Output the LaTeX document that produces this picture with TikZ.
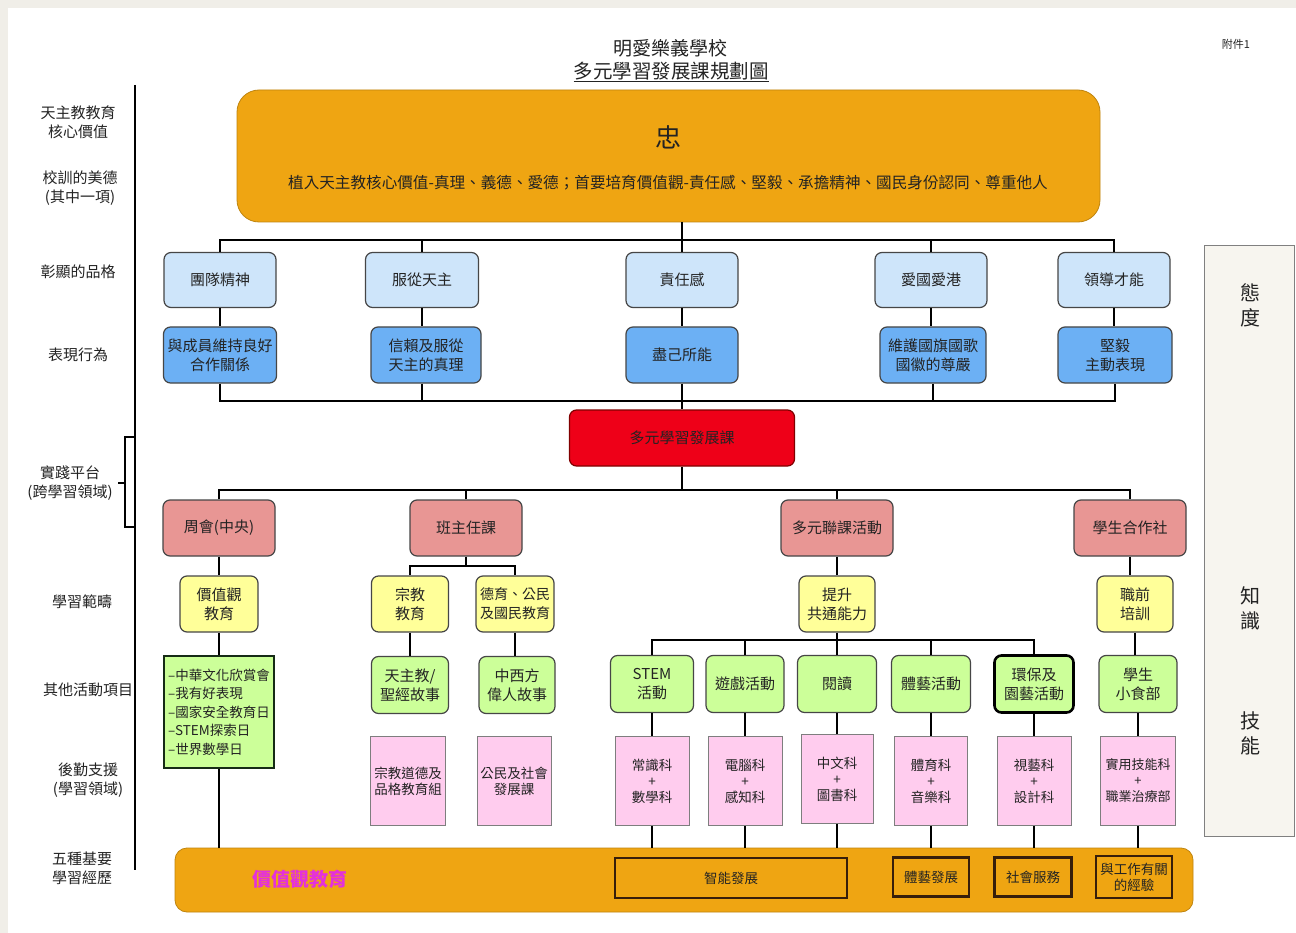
\documentclass[tikz,border=0pt]{standalone}
\usepackage{fontspec}
\setmainfont{Noto Sans CJK TC}
\definecolor{cBG}{RGB}{240,238,232}
\definecolor{cOr}{RGB}{239,165,18}
\definecolor{cLB}{RGB}{206,229,250}
\definecolor{cMB}{RGB}{108,176,244}
\definecolor{cRed}{RGB}{238,0,24}
\definecolor{cPR}{RGB}{232,150,148}
\definecolor{cYe}{RGB}{255,255,153}
\definecolor{cGr}{RGB}{204,255,153}
\definecolor{cPk}{RGB}{255,204,238}
\definecolor{cPan}{RGB}{247,245,239}
\definecolor{cTxt}{RGB}{35,35,35}
\definecolor{cLine}{RGB}{70,70,70}
\definecolor{cMag}{RGB}{228,48,220}
\definecolor{cBrown}{RGB}{55,30,10}
\tikzset{
  box/.style={draw=cLine, line width=1.2pt, rounded corners=7pt, align=center, inner sep=1pt, text=cTxt, font=\fontsize{15}{19}\selectfont},
  lbbox/.style={box, fill=cLB, minimum height=55},
  mbbox/.style={box, fill=cMB, minimum height=56},
  prbox/.style={box, fill=cPR, minimum height=56},
  yebox/.style={box, fill=cYe, minimum height=56},
  grbox/.style={box, fill=cGr, minimum height=57},
  pkbox/.style={draw=cLine!70, line width=0.8pt, fill=cPk, align=center, inner sep=1pt, text=cTxt, minimum height=89, font=\fontsize{13.5}{16}\selectfont},
  inbox/.style={draw=cBrown, line width=2.5pt, align=center, inner sep=1pt, text=cTxt, font=\fontsize{13.5}{16}\selectfont},
  lab/.style={align=center, inner sep=0pt, text=cTxt, font=\fontsize{15}{19}\selectfont},
  conn/.style={draw=black, line width=2pt},
}
\begin{document}
\begin{tikzpicture}[x=1pt,y=-1pt]
\useasboundingbox (0,0) rectangle (1296,933);
\fill[cBG] (0,0) rectangle (1296,933);
\fill[white] (8,8) rectangle (1296,933);

% titles
\node[lab, font=\fontsize{19}{22}\selectfont] (t1) at (670,48) {明愛樂義學校};
\node[lab, font=\fontsize{19.5}{22}\selectfont] (t2) at (671,72) {\underline{多元學習發展課規劃圖}};
\node[lab, font=\fontsize{11}{13}\selectfont] (att) at (1236,44) {附件1};

% left labels and axis
\draw[line width=2pt] (135,85) -- (135,870);
\draw[line width=2pt] (135,437) -- (125,437) -- (125,527) -- (135,527);
\draw[line width=2pt] (125,483) -- (118,483);
\node[lab] (L1) at (78,122) {天主教教育\\核心價值};
\node[lab] (L2) at (80,188) {校訓的美德\\(其中一項)};
\node[lab] (L3) at (78,272) {彰顯的品格};
\node[lab] (L4) at (78,355) {表現行為};
\node[lab] (L5) at (70,483) {實踐平台\\(跨學習領域)};
\node[lab] (L6) at (82,602) {學習範疇};
\node[lab] (L7) at (88,690) {其他活動項目};
\node[lab] (L8) at (88,780) {後勤支援\\(學習領域)};
\node[lab] (L9) at (82,868) {五種基要\\學習經歷};

% right panel
\node[draw=gray, line width=1pt, fill=cPan, minimum width=90, minimum height=590, inner sep=0] (pan) at (1249,541) {};
\node[lab, font=\fontsize{20}{25}\selectfont] (att1) at (1250,305) {態\\度};
\node[lab, font=\fontsize{20}{25}\selectfont] (att2) at (1250,608) {知\\識};
\node[lab, font=\fontsize{20}{25}\selectfont] (att3) at (1250,733) {技\\能};

% top box
\node[draw=cOr!80!black, line width=0.8pt, fill=cOr, rounded corners=22pt, minimum width=863, minimum height=132, inner sep=0] (top) at (668.5,156) {};
\node[lab, font=\fontsize{26}{30}\selectfont] (zhong) at (668,137) {忠};
\node[lab, font=\fontsize{15.6}{19}\selectfont] (core) at (668,183) {植入天主教核心價值-真理、義德、愛德；首要培育價值觀-責任感、堅毅、承擔精神、國民身份認同、尊重他人};

% row 1
\node[lbbox, minimum width=112] (p1) at (220,280) {團隊精神};
\node[lbbox, minimum width=113] (p2) at (422,280) {服從天主};
\node[lbbox, minimum width=112] (p3) at (682,280) {責任感};
\node[lbbox, minimum width=112] (p4) at (931,280) {愛國愛港};
\node[lbbox, minimum width=112] (p5) at (1114,280) {領導才能};
% row 2
\node[mbbox, minimum width=113] (q1) at (220,355) {與成員維持良好\\合作關係};
\node[mbbox, minimum width=110] (q2) at (426,355) {信賴及服從\\天主的真理};
\node[mbbox, minimum width=112] (q3) at (682,355) {盡己所能};
\node[mbbox, minimum width=106] (q4) at (933,355) {維護國旗國歌\\國徽的尊嚴};
\node[mbbox, minimum width=114] (q5) at (1115,355) {堅毅\\主動表現};

% red box
\node[box, fill=cRed, draw=red!50!black, minimum width=225, minimum height=56] (red) at (682,438) {多元學習發展課};

% row 3
\node[prbox, minimum width=112] (r1) at (219,528) {周會(中央)};
\node[prbox, minimum width=112] (r2) at (466,528) {班主任課};
\node[prbox, minimum width=112] (r3) at (837,528) {多元聯課活動};
\node[prbox, minimum width=112] (r4) at (1130,528) {學生合作社};

% row 4
\node[yebox, minimum width=78] (y1) at (219,604) {價值觀\\教育};
\node[yebox, minimum width=77] (y2) at (410,604) {宗教\\教育};
\node[yebox, minimum width=78, font=\fontsize{14}{19}\selectfont] (y3) at (515,604) {德育、公民\\及國民教育};
\node[yebox, minimum width=76] (y4) at (837,604) {提升\\共通能力};
\node[yebox, minimum width=76] (y5) at (1135,604) {職前\\培訓};

% row 5
\node[draw=cLine!80!green!40!black, line width=2.5pt, fill=cGr, minimum width=110, minimum height=112, align=left, inner sep=2pt, text=cTxt, font=\fontsize{13.5}{18.5}\selectfont] (list) at (219,712) {–中華文化欣賞會\\–我有好表現\\–國家安全教育日\\–STEM探索日\\–世界數學日};
\node[grbox, minimum width=77] (g1) at (410,685) {天主教/\\聖經故事};
\node[grbox, minimum width=76] (g2) at (517,685) {中西方\\偉人故事};
\node[grbox, minimum width=83] (g3) at (652,684) {STEM\\活動};
\node[grbox, minimum width=78] (g4) at (745,684) {遊戲活動};
\node[grbox, minimum width=79] (g5) at (837,684) {閱讀};
\node[grbox, minimum width=79] (g6) at (931,684) {體藝活動};
\node[grbox, minimum width=79, line width=2.6pt, draw=black] (g7) at (1034,684) {環保及\\園藝活動};
\node[grbox, minimum width=78] (g8) at (1138,684) {學生\\小食部};

% row 6
\node[pkbox, minimum width=75] (k1) at (408,781) {宗教道德及\\品格教育組};
\node[pkbox, minimum width=74] (k2) at (514,781) {公民及社會\\發展課};
\node[pkbox, minimum width=74] (k3) at (652,781) {常識科\\+\\數學科};
\node[pkbox, minimum width=74] (k4) at (745,781) {電腦科\\+\\感知科};
\node[pkbox, minimum width=72] (k5) at (837,779) {中文科\\+\\圖書科};
\node[pkbox, minimum width=73] (k6) at (931,781) {體育科\\+\\音樂科};
\node[pkbox, minimum width=74] (k7) at (1034,781) {視藝科\\+\\設計科};
\node[pkbox, minimum width=75, font=\fontsize{13}{16}\selectfont] (k8) at (1138,781) {實用技能科\\+\\職業治療部};

% bottom box
\node[draw=cOr!80!black, line width=0.8pt, fill=cOr, rounded corners=12pt, minimum width=1018, minimum height=64, inner sep=0] (bot) at (684,880) {};
\node[lab, text=cMag, font=\fontsize{19}{22}\selectfont\bfseries] (vedu) at (300,879) {價值觀教育};
\node[inbox, minimum width=232, minimum height=40] (e1) at (731,878) {智能發展};
\node[inbox, minimum width=76, minimum height=39] (e2) at (931,877) {體藝發展};
\node[inbox, minimum width=77, minimum height=39] (e3) at (1033,877) {社會服務};
\node[inbox, minimum width=76, minimum height=42] (e4) at (1134,877) {與工作有關\\的經驗};

% connectors
\coordinate (busA) at (682,240);
\coordinate (busB) at (682,401);
\coordinate (busC) at (682,490);
\coordinate (busD) at (466,566);
\coordinate (busE) at (837,640);
\draw[conn] (top.south -| busA) -- (busA);
\draw[conn] (p1.north) |- (busA) -| (p5.north);
\foreach \n in {p2,p3,p4} \draw[conn] (\n.north) -- (\n.north |- busA);
\draw[conn] (p1.south) -- (q1.north);
\draw[conn] (p2.south) -- (p2.south |- q2.north);
\draw[conn] (p3.south) -- (q3.north);
\draw[conn] (p4.south) -- (p4.south |- q4.north);
\draw[conn] (p5.south) -- (p5.south |- q5.north);
\draw[conn] (q1.south) |- (busB) -| (q5.south);
\draw[conn] (q2.south -| p2.south) -- (p2.south |- busB);
\draw[conn] (q3.south) -- (busB);
\draw[conn] (q4.south) -- (q4.south |- busB);
\draw[conn] (busB) -- (red.north);
\draw[conn] (red.south) -- (busC);
\draw[conn] (r1.north) |- (busC) -| (r4.north);
\draw[conn] (r2.north) -- (r2.north |- busC);
\draw[conn] (r3.north) -- (r3.north |- busC);
\draw[conn] (r1.south) -- (y1.north);
\draw[conn] (r2.south) -- (busD);
\draw[conn] (y2.north) |- (busD) -| (y3.north);
\draw[conn] (r3.south) -- (y4.north);
\draw[conn] (r4.south) -- (r4.south |- y5.north);
\draw[conn] (y1.south) -- (list.north);
\draw[conn] (y2.south) -- (g1.north);
\draw[conn] (y3.south) -- (y3.south |- g2.north);
\draw[conn] (y4.south) -- (busE);
\draw[conn] (g3.north) |- (busE) -| (g7.north);
\draw[conn] (g4.north) -- (g4.north |- busE);
\draw[conn] (g5.north) -- (busE);
\draw[conn] (g6.north) -- (g6.north |- busE);
\draw[conn] (y5.south) -- (y5.south |- g8.north);
\foreach \i in {3,...,8} \draw[conn] (g\i.south) -- (k\i.north);
\foreach \i in {3,...,8} \draw[conn] (k\i.south) -- (k\i.south |- bot.north);
\draw[conn] (list.south) -- (list.south |- bot.north);
\end{tikzpicture}
\end{document}
